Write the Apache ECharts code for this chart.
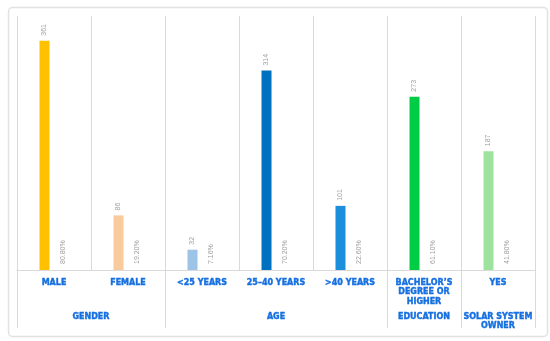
<!DOCTYPE html>
<html>
<head>
<meta charset="utf-8">
<script src="https://cdn.jsdelivr.net/npm/echarts@6/dist/echarts.min.js"></script>
<style>html,body{margin:0;padding:0;background:#fff}#c{width:550px;height:341px}</style>
</head>
<body>
<div id="c"></div>
<script>
const categories = ['MALE', 'FEMALE', '<25 YEARS', '25\u201340 YEARS', '>40 YEARS', 'BACHELOR\u2019S\nDEGREE OR\nHIGHER', 'YES'];
const counts = [361, 86, 32, 314, 101, 273, 187];
const percents = [80.80, 19.20, 7.16, 70.20, 22.60, 61.10, 41.80];
const barColors = ['#FFC000', '#F9CB9C', '#9DC3E6', '#0070C0', '#1B8FDB', '#00CC44', '#9DE39D'];
const groups = ['GENDER', 'AGE', 'EDUCATION', 'SOLAR SYSTEM\nOWNER'];
const groupSizes = [2, 3, 1, 1];

// build half-step positions for the group axis
const nHalf = categories.length * 2;
const groupData = new Array(nHalf + 1).fill('');
const boundaryIdx = [0];
let acc = 0;
groups.forEach((g, i) => {
  const center = acc * 2 + groupSizes[i];
  groupData[center] = g;
  acc += groupSizes[i];
  boundaryIdx.push(acc * 2);
});

const blue = '#1770E0';
const grey = '#D9D9D9';
const labelFont = {
  color: blue, fontFamily: 'DejaVu Sans', fontWeight: 'bold', fontSize: 8, lineHeight: 9.5,
  align: 'center', verticalAlign: 'top', textBorderColor: blue, textBorderWidth: 0.4
};
const chart = echarts.init(document.getElementById('c'));
chart.setOption({
  animation: false,
  graphic: [{
    type: 'rect', left: 6, top: 5,
    shape: { width: 539, height: 329, r: 4 },
    style: { fill: 'none', stroke: '#E2E2E2', lineWidth: 1.5 }, z: -1
  }],
  grid: { left: 17, right: 15, top: 16, bottom: 71 },
  xAxis: [{
    type: 'category', data: categories, position: 'bottom',
    axisLine: { show: true, lineStyle: { color: grey, width: 1 } },
    axisTick: { show: false },
    splitLine: { show: true, lineStyle: { color: grey, width: 1 } },
    axisLabel: Object.assign({ interval: 0, margin: 8 }, labelFont)
  }, {
    type: 'category', data: groupData, position: 'bottom', boundaryGap: false,
    axisLine: { show: false },
    axisTick: { show: true, length: 58, interval: (i) => boundaryIdx.includes(i), lineStyle: { color: grey, width: 1 } },
    axisLabel: Object.assign({ interval: 0, margin: 42 }, labelFont)
  }],
  yAxis: { type: 'value', min: 0, max: 400, show: false, splitLine: { show: false } },
  series: [{
    type: 'bar', xAxisIndex: 0, barWidth: 10, barGap: '90%',
    data: counts.map((v, i) => ({ value: v, itemStyle: { color: barColors[i] } })),
    label: {
      show: true, position: 'top', distance: 5, rotate: 90, align: 'left', verticalAlign: 'middle',
      color: '#A0A0A0', fontSize: 7, fontFamily: 'Liberation Sans'
    }
  }, {
    type: 'bar', xAxisIndex: 0, barWidth: 10,
    data: percents,
    itemStyle: { color: 'rgba(0,0,0,0)' },
    label: {
      show: true, position: 'insideBottom', distance: 6, rotate: 90, align: 'left', verticalAlign: 'middle',
      color: '#A0A0A0', fontSize: 7, fontFamily: 'Liberation Sans',
      formatter: (p) => p.value.toFixed(2) + '%'
    }
  }]
});
</script>
</body>
</html>
